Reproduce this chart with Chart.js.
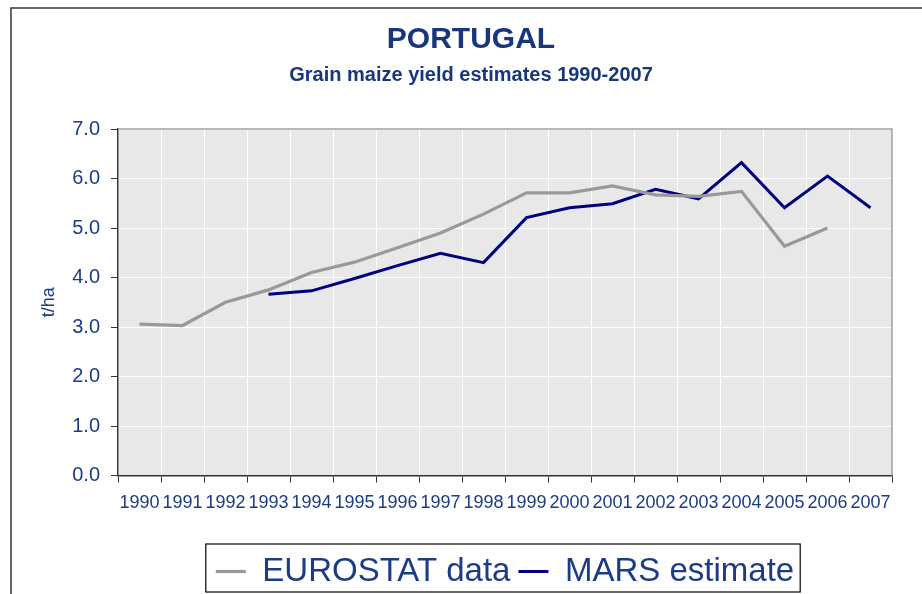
<!DOCTYPE html>
<html>
<head>
<meta charset="utf-8">
<script src="https://cdn.jsdelivr.net/npm/chart.js@4/dist/chart.umd.min.js"></script>
<style>
    html, body { margin: 0; padding: 0; background: #fff; overflow: hidden; }
    #wrap { width: 922px; height: 594px; position: relative; }
</style>
</head>
<body>
<div id="wrap"><canvas id="chart-portugal"></canvas></div>
<script>
const years = ["1990", "1991", "1992", "1993", "1994", "1995", "1996", "1997", "1998",
    "1999", "2000", "2001", "2002", "2003", "2004", "2005", "2006", "2007"];
const eurostat = [3.06, 3.03, 3.50, 3.75, 4.10, 4.31, 4.60, 4.90, 5.28,
    5.71, 5.71, 5.85, 5.67, 5.64, 5.74, 4.63, 5.00, null];
const mars = [null, null, null, 3.66, 3.73, 3.98, 4.24, 4.49, 4.30,
    5.21, 5.41, 5.49, 5.78, 5.59, 6.32, 5.41, 6.05, 5.41];

const navyText = "#1c3b85";

// page frame, grey plot background, plot top/right border, legend box
const decor = {
    id: "decor",
    beforeDraw(chart) {
        const ctx = chart.ctx;
        const a = chart.chartArea;
        ctx.save();
        ctx.fillStyle = "#fff";
        ctx.fillRect(0, 0, chart.width, chart.height);
        ctx.strokeStyle = "#333";
        ctx.lineWidth = 1.5;
        ctx.beginPath();
        ctx.moveTo(11, chart.height + 5);
        ctx.lineTo(11, 8);
        ctx.lineTo(chart.width + 5, 8);
        ctx.stroke();
        ctx.fillStyle = "#e8e8e8";
        ctx.fillRect(a.left, a.top, a.right - a.left, a.bottom - a.top);
        ctx.restore();
    },
    afterDraw(chart) {
        const ctx = chart.ctx;
        const a = chart.chartArea;
        ctx.save();
        ctx.strokeStyle = "#a0a0a0";
        ctx.lineWidth = 1.5;
        ctx.beginPath();
        ctx.moveTo(a.left, a.top);
        ctx.lineTo(a.right, a.top);
        ctx.lineTo(a.right, a.bottom);
        ctx.stroke();

        const boxes = chart.legend.legendHitBoxes;
        if (boxes && boxes.length) {
            let l = Infinity, r = -Infinity, t = Infinity, b = -Infinity;
            boxes.forEach((h) => {
                l = Math.min(l, h.left);
                r = Math.max(r, h.left + h.width);
                t = Math.min(t, h.top);
                b = Math.max(b, h.top + h.height);
            });
            ctx.strokeStyle = "#000";
            ctx.lineWidth = 1.2;
            ctx.strokeRect(l - 10, t - 11, r - l + 16, b - t + 15);
        }
        ctx.restore();
    },
};

new Chart("chart-portugal", {
    type: "line",
    data: {
        labels: years,
        datasets: [
            {
                label: "EUROSTAT data",
                data: eurostat,
                borderColor: "#999999",
                backgroundColor: "#999999",
                borderWidth: 3.2,
            },
            {
                label: "MARS estimate",
                data: mars,
                borderColor: "#000080",
                backgroundColor: "#000080",
                borderWidth: 3,
            },
        ],
    },
    options: {
        responsive: true,
        maintainAspectRatio: false,
        animation: false,
        layout: {
            padding: { left: 50, right: 30, top: 0, bottom: -4 },
        },
        elements: {
            point: { radius: 0, hoverRadius: 0 },
            line: { tension: 0 },
        },
        scales: {
            x: {
                offset: true,
                grid: {
                    offset: true,
                    color: "#ffffff",
                    lineWidth: 1,
                    tickColor: "#333",
                    tickLength: 7,
                },
                border: { color: "#333", width: 1.5 },
                ticks: {
                    autoSkip: false,
                    maxRotation: 0,
                    minRotation: 0,
                    padding: 10,
                    color: navyText,
                    font: { family: "'Liberation Sans', Arial, sans-serif", size: 18 },
                },
                afterFit(scale) {
                    scale.height = 71.5;
                },
            },
            y: {
                min: 0,
                max: 7,
                grid: {
                    color: "#ffffff",
                    lineWidth: 1,
                    tickColor: "#333",
                    tickLength: 7,
                },
                border: { color: "#333", width: 1.5 },
                ticks: {
                    stepSize: 1,
                    padding: 11,
                    color: navyText,
                    font: { family: "'Liberation Sans', Arial, sans-serif", size: 20 },
                    callback: (v) => Number(v).toFixed(1),
                },
                title: {
                    display: true,
                    text: "t/ha",
                    color: navyText,
                    font: { family: "'Liberation Sans', Arial, sans-serif", size: 18 },
                    padding: { top: -12, bottom: 0 },
                },
                afterFit(scale) {
                    scale.width = 68;
                },
            },
        },
        plugins: {
            title: {
                display: true,
                text: "PORTUGAL",
                color: "#17367c",
                font: { family: "'Liberation Sans', Arial, sans-serif", size: 30, weight: "bold" },
                padding: { top: 22, bottom: 0 },
            },
            subtitle: {
                display: true,
                text: "Grain maize yield estimates 1990-2007",
                color: "#17367c",
                font: { family: "'Liberation Sans', Arial, sans-serif", size: 20, weight: "bold" },
                padding: { top: 5, bottom: 42 },
            },
            legend: {
                position: "bottom",
                fullSize: false,
                labels: {
                    usePointStyle: true,
                    pointStyle: "line",
                    pointStyleWidth: 30,
                    padding: 8,
                    color: navyText,
                    font: { family: "'Liberation Sans Narrow', 'Arial Narrow', 'Liberation Sans', sans-serif", size: 33 },
                },
            },
            tooltip: { enabled: false },
        },
    },
    plugins: [decor],
});
</script>
</body>
</html>
